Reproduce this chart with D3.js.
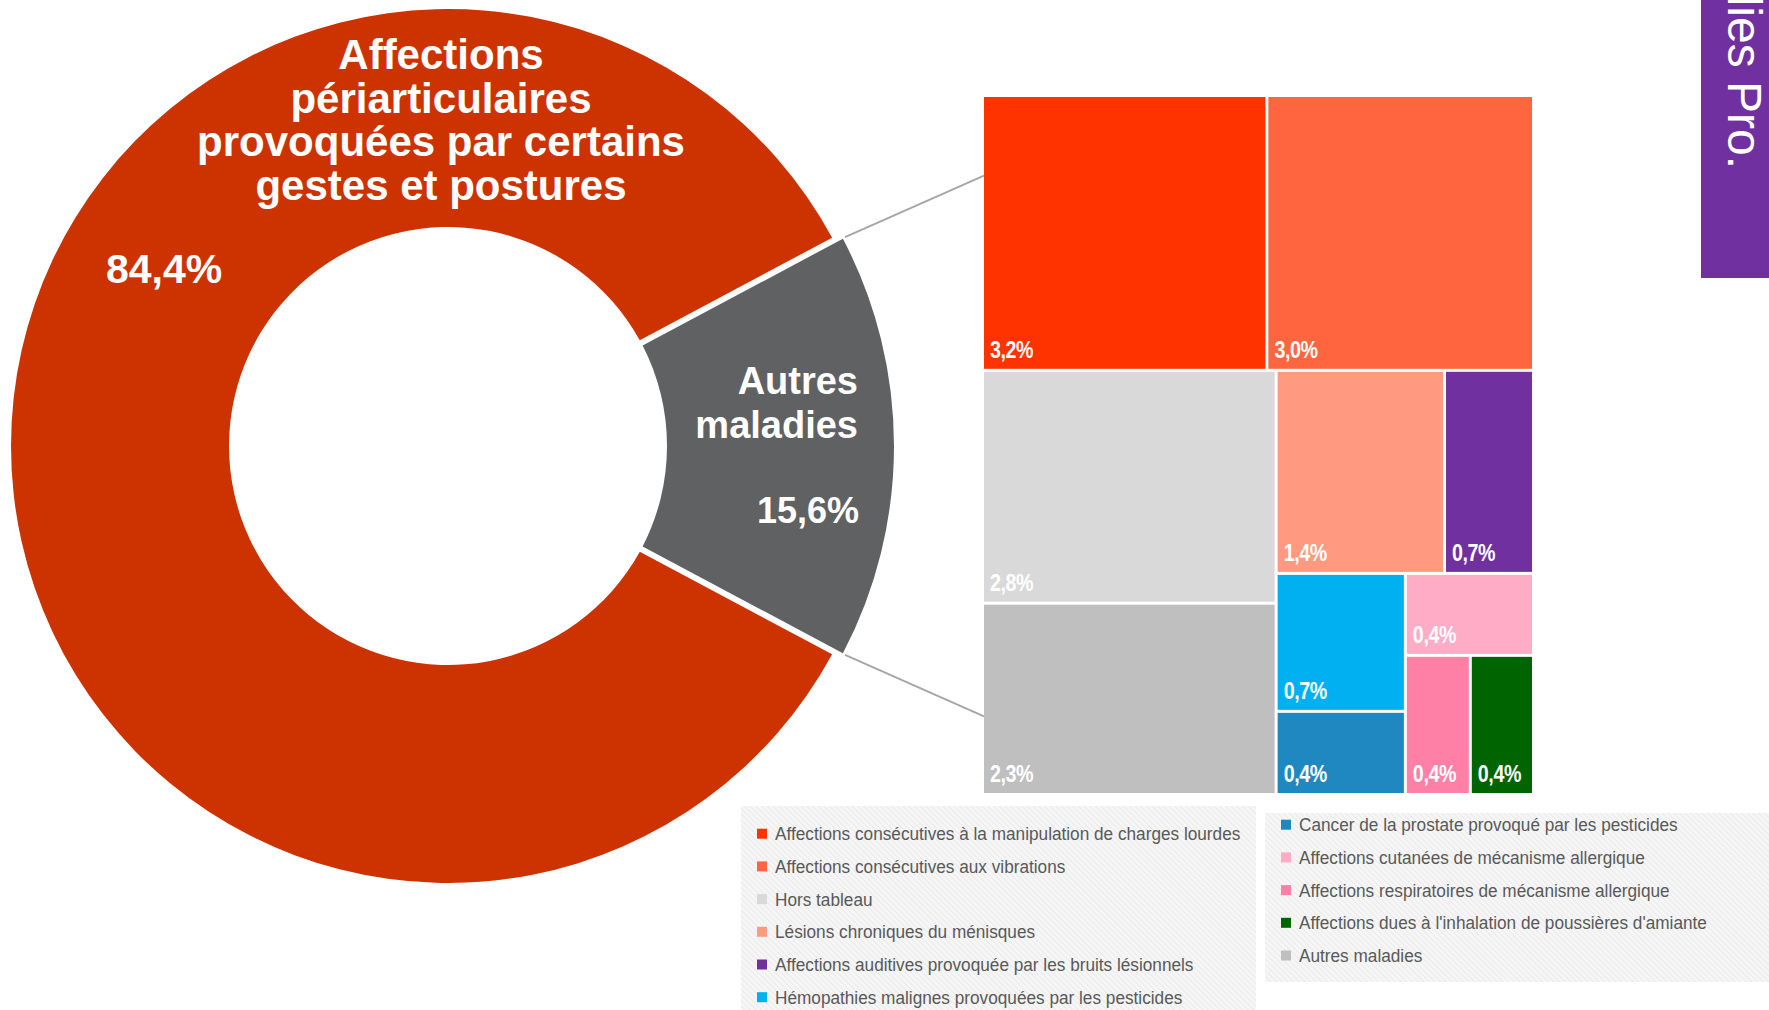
<!DOCTYPE html>
<html lang="fr">
<head>
<meta charset="utf-8">
<title>Maladies professionnelles</title>
<script src="https://cdn.jsdelivr.net/npm/d3@7"></script>
<style>
  html, body { margin: 0; padding: 0; background: #fff; overflow: hidden; }
  svg { display: block; font-family: "Liberation Sans", Arial, sans-serif; }
</style>
</head>
<body>
<svg id="chart" width="1769" height="1010"></svg>
<script>
// --- donut : gestes et postures vs le reste
var donutNames = ["Affections périarticulaires provoquées par certains gestes et postures", "Autres maladies"];
var donutLines = [["Affections", "périarticulaires", "provoquées par certains", "gestes et postures"], ["Autres", "maladies"]];
var donutValues = [84.4, 15.6];
var donutColors = ["#cc3300", "#606163"];

// --- detail des autres maladies (treemap), ordre de la legende
var tmNames = [
  "Affections consécutives à la manipulation de charges lourdes",
  "Affections consécutives aux vibrations",
  "Hors tableau",
  "Lésions chroniques du ménisques",
  "Affections auditives provoquée par les bruits lésionnels",
  "Hémopathies malignes provoquées par les pesticides",
  "Cancer de la prostate provoqué par les pesticides",
  "Affections cutanées de mécanisme allergique",
  "Affections respiratoires de mécanisme allergique",
  "Affections dues à l'inhalation de poussières d'amiante",
  "Autres maladies"
];
var tmValues = [3.2, 3.0, 2.8, 1.4, 0.74, 0.73, 0.44, 0.43, 0.37, 0.36, 2.3];
var tmColors = ["#ff3300", "#ff6640", "#d9d9d9", "#ff9980", "#7030a0", "#00b0f0",
                "#2088c0", "#ffacc6", "#ff80a6", "#006400", "#bfbfbf"];

var legendCols = [6, 5];   // nb d'items par boite

var svg = d3.select("#chart");
var fmt = function(v) { return d3.format(".1f")(v).replace(".", ",") + "%"; };

/* ---------------------------------------------------------------*/
// donut
var cx = 448, cy = 446, R = 437, r = 219, Rgray = 446, gap = 6;
var total = d3.sum(donutValues);
var start = Math.PI / 2 + Math.PI * donutValues[1] / total;
var pie = d3.pie().sort(null).startAngle(start).endAngle(start + 2 * Math.PI);
var arcs = pie(donutValues);
var arc = d3.arc().innerRadius(r)
  .outerRadius(function(d) { return d.index === 1 ? Rgray : R; })
  .padRadius(R).padAngle(gap / R);

var donut = svg.append("g").attr("transform", "translate(" + cx + "," + cy + ")");
donut.selectAll("path").data(arcs).enter().append("path")
  .attr("d", arc)
  .attr("fill", function(d, i) { return donutColors[i]; });

// titre du grand secteur
var t0 = svg.append("text").attr("x", 441).attr("y", 69)
  .attr("text-anchor", "middle").attr("fill", "#fff")
  .style("font-weight", "bold").style("font-size", "42px");
donutLines[0].forEach(function(l, i) {
  t0.append("tspan").attr("x", 441).attr("dy", i ? 43.7 : 0).text(l);
});
svg.append("text").attr("x", 106).attr("y", 283).attr("fill", "#fff")
  .style("font-weight", "bold").style("font-size", "41px").text(fmt(donutValues[0]));

var t1 = svg.append("text").attr("x", 858).attr("y", 394)
  .attr("text-anchor", "end").attr("fill", "#fff")
  .style("font-weight", "bold").style("font-size", "38px");
donutLines[1].forEach(function(l, i) {
  t1.append("tspan").attr("x", 858).attr("dy", i ? 44 : 0).text(l);
});
svg.append("text").attr("x", 859).attr("y", 523).attr("text-anchor", "end").attr("fill", "#fff")
  .style("font-weight", "bold").style("font-size", "36px").text(fmt(donutValues[1]));

/* ---------------------------------------------------------------*/
// treemap
var tm = { x: 984, y: 97, w: 548, h: 696 };
var root = d3.hierarchy({ children: tmNames.map(function(n, i) {
    return { name: n, value: tmValues[i], color: tmColors[i] };
  }) })
  .sum(function(d) { return d.value || 0; })
  .sort(function(a, b) { return b.value - a.value; });
d3.treemap().tile(d3.treemapSquarify.ratio(1.2)).size([tm.w, tm.h]).paddingInner(3)(root);

var cells = svg.append("g").attr("transform", "translate(" + tm.x + "," + tm.y + ")")
  .selectAll("g").data(root.leaves()).enter().append("g");
cells.append("rect")
  .attr("x", function(d) { return d.x0; })
  .attr("y", function(d) { return d.y0; })
  .attr("width", function(d) { return d.x1 - d.x0; })
  .attr("height", function(d) { return d.y1 - d.y0; })
  .attr("fill", function(d) { return d.data.color; });
cells.append("text")
  .attr("transform", function(d) { return "translate(" + (d.x0 + 6) + "," + (d.y1 - 11) + ") scale(0.82,1)"; })
  .attr("fill", "#fff")
  .style("font-weight", "bold").style("font-size", "24px").style("letter-spacing", "-0.5px")
  .text(function(d) { return fmt(d.data.value); });

// lignes de rappel entre le secteur gris et le treemap
var g = arcs[1];
[[g.startAngle, tm.y + 0.113 * tm.h, 3], [g.endAngle, tm.y + tm.h - 0.11 * tm.h, -3]].forEach(function(p) {
  svg.append("line")
    .attr("x1", cx + (Rgray + 4) * Math.sin(p[0])).attr("y1", cy - (Rgray + 4) * Math.cos(p[0]) + p[2])
    .attr("x2", tm.x).attr("y2", p[1])
    .attr("stroke", "#a6a6a6").attr("stroke-width", 2);
});

/* ---------------------------------------------------------------*/
// legende (2 boites hachurees)
var defs = svg.append("defs");
var pat = defs.append("pattern").attr("id", "hatch").attr("patternUnits", "userSpaceOnUse")
  .attr("width", 4).attr("height", 4).attr("patternTransform", "rotate(-45)");
pat.append("rect").attr("width", 4).attr("height", 4).attr("fill", "#f6f6f6");
pat.append("line").attr("x1", 0).attr("y1", 0).attr("x2", 0).attr("y2", 4)
  .attr("stroke", "#e8e8e8").attr("stroke-width", 1.6);

var boxes = [
  { x: 741, y: 806, w: 515, h: 220, first: 833.7, mx: 757, tx: 775 },
  { x: 1265, y: 813, w: 520, h: 169, first: 824.7, mx: 1281, tx: 1299 }
];
var idx = 0;
boxes.forEach(function(b, k) {
  svg.append("rect").attr("x", b.x).attr("y", b.y).attr("width", b.w).attr("height", b.h)
    .attr("fill", "url(#hatch)");
  for (var j = 0; j < legendCols[k]; j++, idx++) {
    var yy = b.first + j * 32.7;
    svg.append("rect").attr("x", b.mx).attr("y", yy - 5).attr("width", 10).attr("height", 10)
      .attr("fill", tmColors[idx]);
    svg.append("text")
      .attr("transform", "translate(" + b.tx + "," + (yy + 6.5) + ") scale(0.93,1)")
      .attr("fill", "#595959").style("font-size", "18.5px")
      .text(tmNames[idx]);
  }
});

/* ---------------------------------------------------------------*/
// onglet violet a droite
svg.append("rect").attr("x", 1701).attr("y", -5).attr("width", 80).attr("height", 283).attr("fill", "#7030a0");
svg.append("text").attr("transform", "translate(1728,169) rotate(90)")
  .attr("text-anchor", "end").attr("fill", "#fff").style("font-size", "48px")
  .text("Maladies Pro.");
</script>
</body>
</html>
